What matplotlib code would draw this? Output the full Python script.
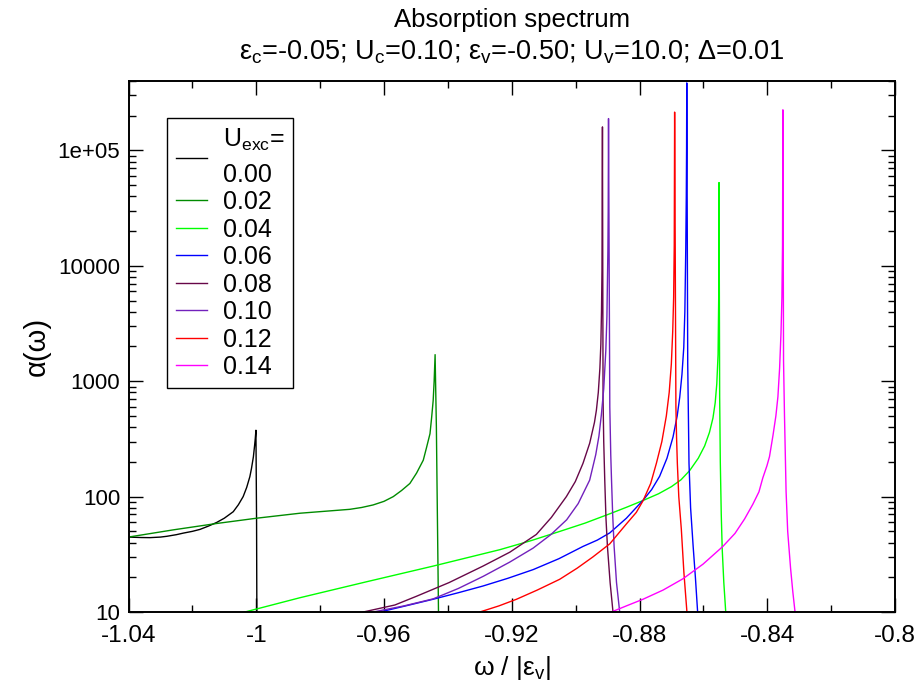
import matplotlib
matplotlib.use("Agg")
import matplotlib.pyplot as plt
from matplotlib.ticker import MultipleLocator, LogLocator, FuncFormatter, NullFormatter

plt.rcParams['font.family'] = ['Liberation Sans', 'DejaVu Sans']

# U_exc values of the curves
u_exc = ['0.00', '0.02', '0.04', '0.06', '0.08', '0.10', '0.12', '0.14']
colors = ['#000000', '#008b00', '#00ff00', '#0000ff', '#670748', '#7221bc', '#ff0000', '#ff00ff']

# omega / |eps_v| and alpha(omega)
w_000 = [-1.0400, -1.0360, -1.0333, -1.0300, -1.0280, -1.0250, -1.0228, -1.0200, -1.0176, -1.0150,
         -1.0124, -1.0100, -1.0072, -1.0056, -1.0041, -1.0030, -1.0020, -1.0015, -1.0009, -1.0005,
         -1.0003, -1.0001, -0.9999, -0.9998]
a_000 = [44.6, 44.2, 44.1, 44.6, 45.3, 46.8, 48.3, 50.0, 52.0, 55.5,
         59.7, 65.0, 74.0, 85.0, 100, 120, 149, 175, 221, 280,
         320, 376, 60, 8]

w_002 = [-1.0400, -1.0260, -1.0124, -0.9999, -0.9863, -0.9707, -0.9670, -0.9634, -0.9600, -0.9571,
         -0.9545, -0.9519, -0.9498, -0.9477, -0.9467, -0.9456, -0.9451, -0.9446, -0.9443, -0.9440,
         -0.9436, -0.9434, -0.9431, -0.9429]
a_002 = [44.6, 51.5, 58.5, 65.0, 71.8, 77.6, 80.5, 84.7, 91.0, 100,
         113, 130, 160, 207, 265, 351, 480, 682, 1000, 1700,
         401, 129, 25, 8]

w_004 = [-1.0060, -0.9863, -0.9654, -0.9446, -0.9237, -0.9140, -0.9049, -0.8970, -0.8893, -0.8840,
         -0.8789, -0.8740, -0.8700, -0.8670, -0.8643, -0.8616, -0.8596, -0.8581, -0.8570, -0.8563,
         -0.8558, -0.8554, -0.8552, -0.8551, -0.8549, -0.8547, -0.8544, -0.8541, -0.8536, -0.8530,
         -0.8527]
a_004 = [9.6, 13.3, 18.3, 25.0, 34.7, 41.5, 50.0, 59.0, 71.0, 81.0,
         92.5, 106, 122, 140, 168, 215, 275, 360, 480, 650,
         950, 1700, 5300, 52700, 728, 200, 70, 35, 18, 10,
         9]

w_006 = [-0.9613, -0.9532, -0.9446, -0.9367, -0.9290, -0.9212, -0.9133, -0.9052, -0.8977, -0.8932,
         -0.8893, -0.8841, -0.8789, -0.8762, -0.8737, -0.8714, -0.8695, -0.8682, -0.8674, -0.8667,
         -0.86614, -0.8658, -0.86551, -0.86535, -0.86526, -0.8652, -0.8649, -0.8645, -0.8640, -0.8632,
         -0.8625, -0.8618, -0.8615]
a_006 = [10.0, 11.3, 12.9, 14.7, 16.8, 19.6, 23.3, 29.0, 37.0, 42.0,
         48.5, 65.0, 93.0, 115, 150, 215, 329, 500, 728, 1150,
         1960, 4000, 14300, 40000, 104000, 385000, 1410, 194, 80, 37,
         20, 10, 9]

w_008 = [-0.9665, -0.9566, -0.9498, -0.9396, -0.9290, -0.9206, -0.9123, -0.9076, -0.9029, -0.9001,
         -0.8977, -0.8956, -0.8941, -0.8935, -0.8929, -0.8924, -0.8921, -0.8919, -0.89175, -0.8916,
         -0.89141, -0.8912, -0.89088, -0.8905, -0.89004, -0.8892, -0.8883, -0.8880]
a_008 = [10.0, 11.5, 13.7, 18.0, 25.0, 33.0, 47.0, 66.0, 100, 135,
         194, 290, 440, 560, 800, 1300, 2100, 4000, 9000, 160000,
         700, 300, 139, 65, 37, 18, 10, 9]

w_010 = [-0.9634, -0.9537, -0.9446, -0.9367, -0.9289, -0.9207, -0.9133, -0.9077, -0.9028, -0.8992,
         -0.8956, -0.8937, -0.8927, -0.89195, -0.8912, -0.89055, -0.8902, -0.8899, -0.8898, -0.8897,
         -0.8893, -0.8890, -0.88876, -0.8884, -0.88795, -0.8872, -0.8862, -0.8859]
a_010 = [10.0, 11.3, 13.0, 16.0, 20.4, 27.0, 35.8, 47.0, 63.0, 87.0,
         139, 231, 335, 509, 860, 1841, 3660, 13400, 30000, 189000,
         597, 230, 139, 70, 37, 18, 10, 9]

w_012 = [-0.9300, -0.9240, -0.9185, -0.9120, -0.9050, -0.8995, -0.8946, -0.8893, -0.8841, -0.8810,
         -0.8789, -0.8765, -0.8747, -0.8730, -0.8716, -0.8707, -0.87003, -0.8696, -0.86931, -0.86912,
         -0.8690, -0.8686, -0.8684, -0.86815, -0.8677, -0.8669, -0.8661, -0.86515, -0.8648]
a_012 = [10.0, 11.3, 12.9, 15.5, 19.2, 24.0, 30.0, 39.0, 58.0, 73.0,
         92.0, 130, 195, 300, 500, 800, 1410, 2700, 5300, 15000,
         215000, 597, 330, 194, 100, 52, 22, 10, 9]

w_014 = [-0.8888, -0.8841, -0.8789, -0.8726, -0.8664, -0.8601, -0.8539, -0.8501, -0.8471, -0.8445,
         -0.8426, -0.8414, -0.8401, -0.8393, -0.8382, -0.8373, -0.83666, -0.83613, -0.8357, -0.83541,
         -0.83522, -0.8351, -0.8349, -0.8346, -0.8341, -0.8336, -0.8327, -0.8320, -0.8313, -0.8310]
a_014 = [10.0, 11.3, 12.9, 15.5, 19.4, 26.0, 37.0, 48.0, 64.0, 86.0,
         110, 145, 185, 222, 340, 500, 735, 1300, 2600, 5300,
         15000, 225000, 1500, 500, 110, 50, 24, 15, 10, 9]

curves = [(w_000, a_000), (w_002, a_002), (w_004, a_004), (w_006, a_006),
          (w_008, a_008), (w_010, a_010), (w_012, a_012), (w_014, a_014)]

fig = plt.figure(figsize=(9.19, 6.88), dpi=100)
ax = fig.add_axes([128.5 / 919, 76 / 688, 766.5 / 919, 531 / 688])

lines = []
for (w, a), c in zip(curves, colors):
    ln, = ax.plot(w, a, color=c, lw=1.0)
    lines.append(ln)

ax.set_yscale('log')
ax.set_xlim(-1.04, -0.8)
ax.set_ylim(10, 4e5)


def ylab(v, p):
    return '%.0e' % v if v >= 1e5 else '%g' % v


ax.xaxis.set_major_locator(MultipleLocator(0.04))
ax.xaxis.set_minor_locator(MultipleLocator(0.02))
ax.xaxis.set_major_formatter(FuncFormatter(lambda v, p: '%g' % round(v, 4)))
ax.yaxis.set_major_locator(LogLocator(base=10))
ax.yaxis.set_minor_locator(LogLocator(base=10, subs=range(2, 10)))
ax.yaxis.set_minor_formatter(NullFormatter())
ax.yaxis.set_major_formatter(FuncFormatter(ylab))

ax.tick_params(which='both', direction='in', top=True, right=True, width=1.0)
ax.tick_params(which='major', length=10)
ax.tick_params(which='minor', length=5)
ax.tick_params(axis='x', pad=9.3, labelsize=17.5)
ax.tick_params(axis='y', pad=6, labelsize=16)
for s in ax.spines.values():
    s.set_linewidth(1.4)

ax.set_xlabel('ω / |ε$_\\mathregular{v}$|', fontsize=19, va='top')
ax.xaxis.set_label_coords(0.5, -0.079)
ax.set_ylabel('α(ω)', fontsize=21, va='center')
ax.yaxis.set_label_coords(-0.12, 0.5)

labels = ['U$_\\mathregular{exc}$=\n' + u_exc[0]] + u_exc[1:]
leg = ax.legend(lines, labels, loc='upper left', bbox_to_anchor=(0.05, 0.93),
                borderaxespad=0, fontsize=18, handlelength=1.25, handletextpad=0.65,
                labelspacing=0.14, borderpad=0.35, fancybox=False, framealpha=1,
                edgecolor='black')
leg.get_frame().set_linewidth(1.0)
leg.get_texts()[0].set_linespacing(1.5)

fig.text(512 / 919, 1 - 27 / 688, 'Absorption spectrum', ha='center', va='baseline', fontsize=18.5)
fig.text(512 / 919, 1 - 60 / 688,
         'ε$_\\mathregular{c}$=-0.05; U$_\\mathregular{c}$=0.10; ε$_\\mathregular{v}$=-0.50; '
         'U$_\\mathregular{v}$=10.0; Δ=0.01', ha='center', va='baseline', fontsize=19.5)

fig.savefig('out.png', dpi=100)
